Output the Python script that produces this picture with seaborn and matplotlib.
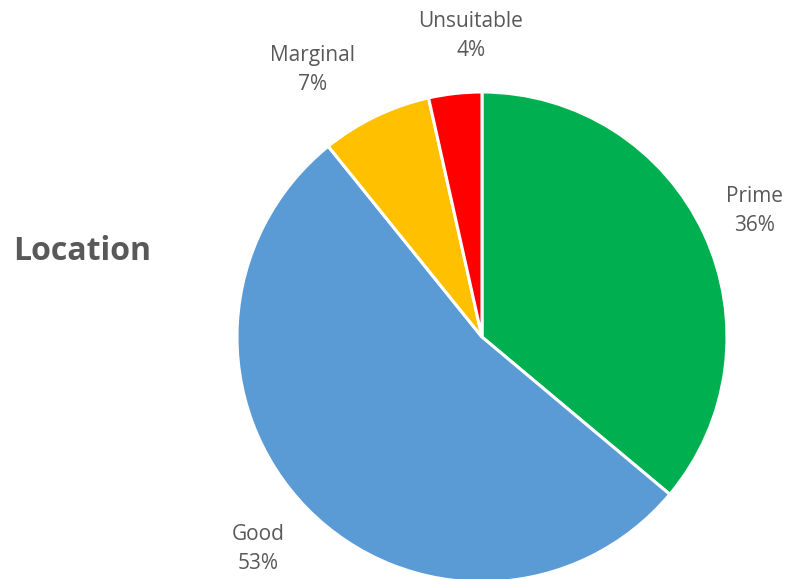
import matplotlib
matplotlib.use("Agg")
import matplotlib.pyplot as plt
import seaborn as sns

sns.set_theme(style="white")
plt.rcParams['font.family'] = ['Open Sans', 'DejaVu Sans']

categories = ["Prime", "Good", "Marginal", "Unsuitable"]
values = [36.1, 53.1, 7.3, 3.5]          # slice shares
pct_labels = ["36%", "53%", "7%", "4%"]  # printed data labels
colors = ["#00B050", "#5B9BD5", "#FFC000", "#FF0000"]
title = "Location"

W, H = 789, 579
fig = plt.figure(figsize=(W / 100, H / 100), dpi=100)
ax = fig.add_axes([0, 0, 1, 1])

cx, cy, r = 482, H - 337, 245
labels = [f"{c}\n{p}" for c, p in zip(categories, pct_labels)]
wedges, texts = ax.pie(values, colors=colors, startangle=90, counterclock=False,
                       center=(cx, cy), radius=r, labels=labels, labeldistance=1.24,
                       wedgeprops=dict(edgecolor="white", linewidth=2.2),
                       textprops=dict(color="#595959", fontsize=15, linespacing=1.45),
                       frame=True)
ax.set_xlim(0, W)
ax.set_ylim(0, H)
ax.set_aspect("equal")
ax.axis("off")

# label placement (layout only)
label_pos = [(755, H - 211), (258, H - 549), (313, H - 70), (471, H - 36)]
for t, p in zip(texts, label_pos):
    t.set_position(p)
    t.set_ha("center")
    t.set_va("center")

ax.text(82, H - 252, title, ha="center", va="center", fontsize=23,
        fontweight="bold", color="#595959")

fig.savefig("out.png", dpi=100)
